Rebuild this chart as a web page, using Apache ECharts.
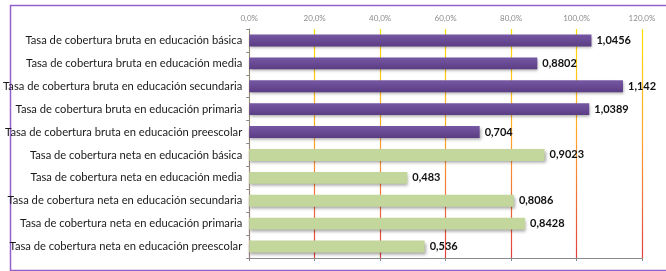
<!DOCTYPE html>
<html lang="es">
<head>
    <meta charset="UTF-8">
    <title>Tasas de cobertura</title>
    <script src="https://cdn.jsdelivr.net/npm/echarts@6/dist/echarts.min.js"></script>
    <style>
        html, body { margin: 0; padding: 0; background: #fff; }
        #chart { width: 666px; height: 271px; }
    </style>
</head>
<body>
<div id="chart"></div>
<script>
    // categorias (de arriba hacia abajo)
    var categorias = [
        "Tasa de cobertura bruta en educación básica",
        "Tasa de cobertura bruta en educación media",
        "Tasa de cobertura bruta en educación secundaria",
        "Tasa de cobertura bruta en educación primaria",
        "Tasa de cobertura bruta en educación preescolar",
        "Tasa de cobertura neta en educación básica",
        "Tasa de cobertura neta en educación media",
        "Tasa de cobertura neta en educación secundaria",
        "Tasa de cobertura neta en educación primaria",
        "Tasa de cobertura neta en educación preescolar"
    ];
    var valores = [1.0456, 0.8802, 1.142, 1.0389, 0.704, 0.9023, 0.483, 0.8086, 0.8428, 0.536];
    var etiquetas = ["1,0456", "0,8802", "1,142", "1,0389", "0,704", "0,9023", "0,483", "0,8086", "0,8428", "0,536"];
    var esBruta = [true, true, true, true, true, false, false, false, false, false];

    var morado = new echarts.graphic.LinearGradient(0, 0, 0, 1, [
        { offset: 0, color: '#7657a3' },
        { offset: 1, color: '#5b3d84' }
    ]);
    var verde = '#c3d69b';

    var datos = valores.map(function (v, i) {
        return {
            value: v,
            itemStyle: { color: esBruta[i] ? morado : verde },
            label: { formatter: etiquetas[i] }
        };
    });

    // degradado de la rejilla: amarillo arriba, rojo abajo (coordenadas globales)
    var gradRejilla = new echarts.graphic.LinearGradient(0, 29, 0, 258, [
        { offset: 0, color: '#ffe000' },
        { offset: 0.5, color: '#ff9f2e' },
        { offset: 1, color: '#e0403f' }
    ], true);

    var chart = echarts.init(document.getElementById('chart'));
    chart.setOption({
        animation: false,
        graphic: [{
            type: 'rect',
            shape: { x: 10.5, y: 5.5, width: 700, height: 265 },
            style: { fill: 'none', stroke: '#9461cc', lineWidth: 1.5 },
            silent: true
        }],
        grid: { left: 247.5, right: 24, top: 29, bottom: 13 },
        xAxis: [{
            type: 'value',
            position: 'top',
            min: 0, max: 1.2, interval: 0.2,
            axisLine: { show: false },
            axisTick: { show: false },
            axisLabel: {
                margin: 7,
                fontFamily: 'Lato',
                fontSize: 8,
                color: '#8c8c8c',
                formatter: function (v) { return (v * 100).toFixed(1).replace('.', ',') + '%'; }
            },
            splitLine: { show: true, lineStyle: { color: gradRejilla, width: 1.2 } }
        }, {
            type: 'value',
            position: 'bottom',
            min: 0, max: 1.2, interval: 0.2,
            axisLine: { show: true, lineStyle: { color: '#8a8a8a', width: 1 } },
            axisTick: { show: true, inside: false, length: 3, lineStyle: { color: '#8a8a8a' } },
            axisLabel: { show: false },
            splitLine: { show: false }
        }],
        yAxis: {
            type: 'category',
            inverse: true,
            data: categorias,
            axisLine: { show: true, lineStyle: { color: '#8a8a8a', width: 1 } },
            axisTick: { show: true, length: 3, lineStyle: { color: '#8a8a8a' } },
            axisLabel: {
                margin: 7,
                fontFamily: 'Lato',
                fontSize: 11.2,
                color: '#1a1a1a'
            }
        },
        series: [{
            type: 'bar',
            xAxisIndex: 0,
            data: datos,
            barWidth: '52%',
            itemStyle: {
                shadowColor: 'rgba(0,0,0,0.35)',
                shadowBlur: 3,
                shadowOffsetX: 1,
                shadowOffsetY: 2
            },
            label: {
                show: true,
                position: 'right',
                distance: 5,
                fontFamily: 'Lato',
                fontSize: 11,
                fontWeight: 'bold',
                color: '#111'
            }
        }]
    });
</script>
</body>
</html>
